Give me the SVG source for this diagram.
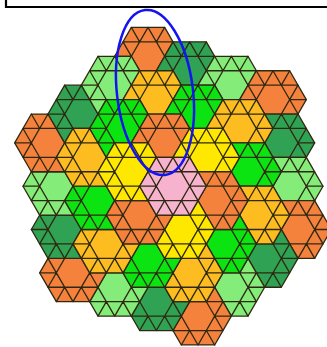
<svg xmlns="http://www.w3.org/2000/svg" width="327" height="347" viewBox="0 0 327 347">
<style>
.ln{stroke:#2e2812;stroke-width:1.3;stroke-linejoin:round;stroke-linecap:round}
.O{fill:#F5823C}.D{fill:#2FA353}.L{fill:#84EC78}.A{fill:#FDBD21}.B{fill:#0CE412}.Y{fill:#FFE800}.P{fill:#F7B3CD}
</style>
<defs>
<g id="p" class="ln">
<polygon points="-33.333,0 -16.667,-28.868 16.667,-28.868 33.333,0 16.667,28.868 -16.667,28.868"/>
<path fill="none" d="M-25,-14.434H25M-25,14.434H25M-33.333,0H-16.667M16.667,0H33.333M-16.667,-28.868L-8.333,-14.434M8.333,14.434L16.667,28.868M0,-28.868L25,14.434M-25,-14.434L0,28.868M16.667,-28.868L8.333,-14.434M-8.333,14.434L-16.667,28.868M0,-28.868L-25,14.434M25,-14.434L0,28.868"/>
</g>
</defs>
<rect width="327" height="347" fill="#fff"/>
<path d="M6,-3V7H330" fill="none" stroke="#000" stroke-width="2.2"/>
<g id="tiling">
<g id="h0m3" class="O"><use href="#p" x="148" y="56.296"/></g>
<g id="h1m3" class="D"><use href="#p" x="189.667" y="70.73"/></g>
<g id="h2m3" class="L"><use href="#p" x="231.333" y="85.164"/></g>
<g id="h3m3" class="O"><use href="#p" x="273" y="99.598"/></g>
<g id="h3m2" class="D"><use href="#p" x="281.333" y="142.898"/></g>
<g id="h3m1" class="L"><use href="#p" x="289.667" y="186.2"/></g>
<g id="h3p0" class="O"><use href="#p" x="298" y="229.501"/></g>
<g id="h2p1" class="D"><use href="#p" x="264.667" y="258.369"/></g>
<g id="h1p2" class="L"><use href="#p" x="231.333" y="287.237"/></g>
<g id="h0p3" class="O"><use href="#p" x="198" y="316.104"/></g>
<g id="hm1p3" class="D"><use href="#p" x="156.333" y="301.67"/></g>
<g id="hm2p3" class="L"><use href="#p" x="114.667" y="287.236"/></g>
<g id="hm3p3" class="O"><use href="#p" x="73" y="272.803"/></g>
<g id="hm3p2" class="D"><use href="#p" x="64.667" y="229.502"/></g>
<g id="hm3p1" class="L"><use href="#p" x="56.333" y="186.2"/></g>
<g id="hm3p0" class="O"><use href="#p" x="48" y="142.899"/></g>
<g id="hm2m1" class="D"><use href="#p" x="81.334" y="114.031"/></g>
<g id="hm1m2" class="L"><use href="#p" x="114.666" y="85.163"/></g>
<g id="h0m2" class="A"><use href="#p" x="156.333" y="99.597"/></g>
<g id="h1m2" class="B"><use href="#p" x="198" y="114.031"/></g>
<g id="h2m2" class="A"><use href="#p" x="239.666" y="128.465"/></g>
<g id="h2m1" class="B"><use href="#p" x="248" y="171.767"/></g>
<g id="h2p0" class="A"><use href="#p" x="256.333" y="215.068"/></g>
<g id="h1p1" class="B"><use href="#p" x="223" y="243.935"/></g>
<g id="h0p2" class="A"><use href="#p" x="189.667" y="272.803"/></g>
<g id="hm1p2" class="B"><use href="#p" x="148" y="258.369"/></g>
<g id="hm2p2" class="A"><use href="#p" x="106.334" y="243.935"/></g>
<g id="hm2p1" class="B"><use href="#p" x="98" y="200.633"/></g>
<g id="hm2p0" class="A"><use href="#p" x="89.667" y="157.332"/></g>
<g id="hm1m1" class="B"><use href="#p" x="123" y="128.465"/></g>
<g id="h0m1" class="O"><use href="#p" x="164.667" y="142.899"/></g>
<g id="h1m1" class="Y"><use href="#p" x="206.334" y="157.333"/></g>
<g id="h1p0" class="O"><use href="#p" x="214.667" y="200.634"/></g>
<g id="h0p1" class="Y"><use href="#p" x="181.333" y="229.501"/></g>
<g id="hm1p1" class="O"><use href="#p" x="139.666" y="215.067"/></g>
<g id="hm1p0" class="Y"><use href="#p" x="131.333" y="171.766"/></g>
<g id="h0p0" class="P"><use href="#p" x="173" y="186.2"/></g>
</g>
<ellipse id="highlight" cx="155" cy="92.5" rx="38" ry="83" transform="rotate(-6.9 155 92.5)" fill="none" stroke="#1414F0" stroke-width="2.5"/>
</svg>
